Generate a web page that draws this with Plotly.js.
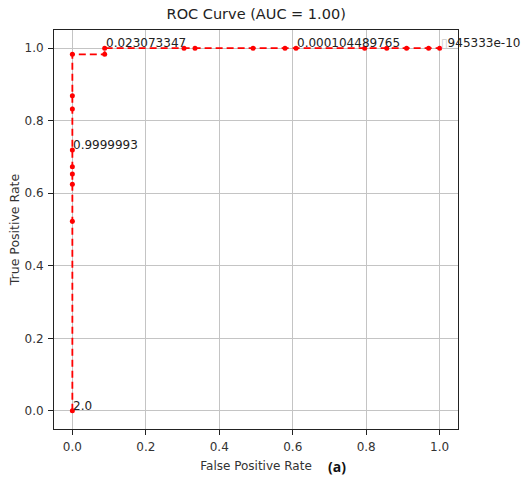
<!DOCTYPE html>
<html>
<head>
<meta charset="utf-8">
<script src="https://cdn.plot.ly/plotly-3.0.1.min.js"></script>
<style>html,body{margin:0;padding:0;background:#fff;}#chart{width:525px;height:477px;}</style>
</head>
<body>
<div id="chart"></div>
<script>
// ROC curve points
const fpr = [0, 0, 0, 0, 0, 0, 0, 0, 0, 0.088, 0.088, 0.304, 0.334, 0.492, 0.579, 0.609, 0.796, 0.856, 0.910, 0.970, 1.0];
const tpr = [0, 0.523, 0.625, 0.653, 0.673, 0.719, 0.832, 0.869, 0.983, 0.983, 1.0, 1.0, 1.0, 1.0, 1.0, 1.0, 1.0, 1.0, 1.0, 1.0, 1.0];
// threshold labels shown every 5th point
const labelIdx = [0, 5, 10, 15, 20];
const labelText = ["2.0", "0.9999993", "0.023073347", "0.000104489765", "<span style='color:#c8c8c8'>▯</span>945333e-10"];
const tickVals = [0, 0.2, 0.4, 0.6, 0.8, 1.0];
const tickText = ["0.0", "0.2", "0.4", "0.6", "0.8", "1.0"];

const font = "DejaVu Sans, sans-serif";
const annotations = labelIdx.map((i, k) => ({
  x: fpr[i], y: tpr[i], xref: 'x', yref: 'y', text: labelText[k],
  showarrow: false, xanchor: 'left', yanchor: 'bottom', yshift: -4, xshift: -1,
  font: {family: font, size: 12, color: '#222'}
}));
annotations.push({
  xref: 'paper', yref: 'paper', x: 0.7, y: 0, yshift: -37, xanchor: 'center', yanchor: 'middle',
  text: '<b>(a)</b>', showarrow: false, font: {family: 'Open Sans, sans-serif', size: 14, color: '#111'}
});

const trace = {
  x: fpr, y: tpr, type: 'scatter', mode: 'lines+markers',
  line: {color: '#ff0000', width: 1.8, dash: '7px,4px'},
  marker: {color: '#ff0000', size: 5},
  cliponaxis: false
};

const axisCommon = {
  range: [-0.05, 1.05], tickvals: tickVals, ticktext: tickText,
  showgrid: true, gridcolor: '#c4c4c4', gridwidth: 1,
  zeroline: false, showline: true, linecolor: '#222', linewidth: 1, mirror: true,
  ticks: 'outside', ticklen: 5, tickcolor: '#222', ticklabelstandoff: 2,
  tickfont: {family: font, size: 12, color: '#333'}
};

const layout = {
  width: 525, height: 477,
  margin: {l: 54, r: 67, t: 30, b: 48},
  paper_bgcolor: '#fff', plot_bgcolor: '#fff',
  showlegend: false,
  title: {text: 'ROC Curve (AUC = 1.00)', x: 0.488, xanchor: 'center', y: 0.97, yanchor: 'middle',
          font: {family: font, size: 14.5, color: '#222'}},
  xaxis: Object.assign({}, axisCommon, {title: {text: 'False Positive Rate', standoff: 8, font: {family: font, size: 12, color: '#333'}}}),
  yaxis: Object.assign({}, axisCommon, {title: {text: 'True Positive Rate', standoff: 2, font: {family: font, size: 12.5, color: '#333'}}}),
  annotations: annotations
};

Plotly.newPlot('chart', [trace], layout, {displayModeBar: false, staticPlot: true});
</script>
</body>
</html>
